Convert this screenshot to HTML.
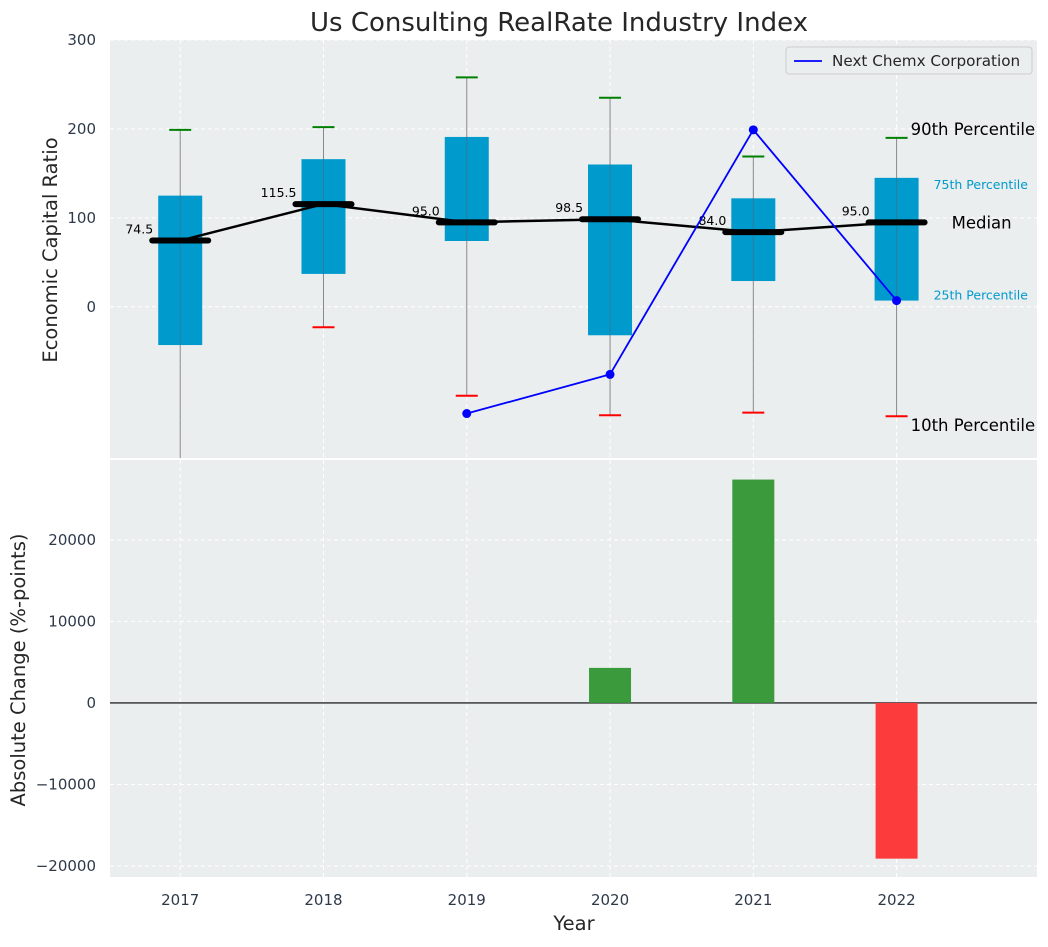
<!DOCTYPE html>
<html><head><meta charset="utf-8"><style>
body{margin:0;background:#fff;font-family:"Liberation Sans","DejaVu Sans",sans-serif}
svg text{font-family:"DejaVu Sans","Liberation Sans",sans-serif}
</style></head><body>
<svg id="chart" width="1048" height="942" xmlns="http://www.w3.org/2000/svg">
<text x="559" y="31" font-size="26" text-anchor="middle" fill="#262626">Us Consulting RealRate Industry Index</text>
<g id="topPanel"></g>
<g id="botPanel"></g>
</svg>
<script>
const years=[2017,2018,2019,2020,2021,2022];
const q1=[-43,37,74,-32,29,7];
const q3=[125,166,191,160,122,145];
const medians=[74.5,115.5,95.0,98.5,84.0,95.0];
const p90=[199,202,258,235,169,190];
const p10=[-200,-23,-100,-122,-119,-123];
const companyYears=[2019,2020,2021,2022];
const companyValues=[-120,-76,199,7];
const changeValues=[0,0,0,4300,27400,-19100];
const topTicks=[0,100,200,300];
const botTicks=[-20000,-10000,0,10000,20000];

const NS="http://www.w3.org/2000/svg";
function el(parent,tag,attrs,text){const e=document.createElementNS(NS,tag);for(const k in attrs)e.setAttribute(k,attrs[k]);if(text!==undefined)e.textContent=text;parent.appendChild(e);return e;}
const X0=110,X1=1037;
const xs=y=>X0+(y-2016.51)/(2022.98-2016.51)*(X1-X0);
const T0=40,T1=458,yt=v=>T0+(300-v)/(300-(-170))*(T1-T0);
const B0=460,B1=877,yb=v=>B0+(29800-v)/(29800-(-21350))*(B1-B0);
const topG=document.getElementById('topPanel'),botG=document.getElementById('botPanel');

let r=el(topG,'rect',{x:X0,y:T0,width:X1-X0,height:T1-T0,fill:'#eaeeef'});

r=el(botG,'rect',{x:X0,y:B0,width:X1-X0,height:B1-B0,fill:'#eaeeef'});


topTicks.forEach(v=>{el(topG,'line',{x1:X0,x2:X1,y1:yt(v),y2:yt(v),stroke:'#fff','stroke-dasharray':'4,3'});
 const t=el(topG,'text',{x:96,y:yt(v)+5,'font-size':15,'text-anchor':'end',fill:'#2e3a4a'},v);
 });
botTicks.forEach(v=>{el(botG,'line',{x1:X0,x2:X1,y1:yb(v),y2:yb(v),stroke:'#fff','stroke-dasharray':'4,3'});
 const t=el(botG,'text',{x:96,y:yb(v)+5,'font-size':15,'text-anchor':'end',fill:'#2e3a4a'},v<0?'\u2212'+(-v):v);
 });
years.forEach(y=>{el(topG,'line',{x1:xs(y),x2:xs(y),y1:T0,y2:T1,stroke:'#fff','stroke-dasharray':'4,3'});
 el(botG,'line',{x1:xs(y),x2:xs(y),y1:B0,y2:B1,stroke:'#fff','stroke-dasharray':'4,3'});
 const t=el(botG,'text',{x:xs(y),y:905,'font-size':15,'text-anchor':'middle',fill:'#2e3a4a'},y);
 });

const clipT=el(topG,'clipPath',{id:'ct'});el(clipT,'rect',{x:X0,y:T0,width:X1-X0,height:T1-T0});
const g=el(topG,'g',{'clip-path':'url(#ct)'});
years.forEach((y,i)=>{const x=xs(y);
 el(g,'line',{x1:x,x2:x,y1:yt(p90[i]),y2:yt(p10[i]),stroke:'#888','stroke-width':1});
 const b=el(g,'rect',{x:x-22,y:yt(q3[i]),width:44,height:yt(q1[i])-yt(q3[i]),fill:'#009acd'});
 
 el(g,'line',{x1:x,x2:x,y1:yt(q3[i]),y2:yt(q1[i]),stroke:'#4a6a80','stroke-width':1,opacity:0.6});
 el(g,'line',{x1:x-11,x2:x+11,y1:yt(p90[i]),y2:yt(p90[i]),stroke:'green','stroke-width':2});
 el(g,'line',{x1:x-11,x2:x+11,y1:yt(p10[i]),y2:yt(p10[i]),stroke:'red','stroke-width':2});
});
let pts=years.map((y,i)=>xs(y)+','+yt(medians[i])).join(' ');
let ml=el(g,'polyline',{points:pts,fill:'none',stroke:'#000','stroke-width':2.5});

years.forEach((y,i)=>{const x=xs(y);
 el(g,'line',{x1:x-28,x2:x+28,y1:yt(medians[i]),y2:yt(medians[i]),stroke:'#000','stroke-width':6,'stroke-linecap':'round'});
 const t=el(g,'text',{x:x-27,y:yt(medians[i])-7,'font-size':12.5,'text-anchor':'end',fill:'#000'},medians[i].toFixed(1));
 });
pts=companyYears.map((y,i)=>xs(y)+','+yt(companyValues[i])).join(' ');
let cl=el(g,'polyline',{points:pts,fill:'none',stroke:'blue','stroke-width':1.8});

companyYears.forEach((y,i)=>{const c=el(g,'circle',{cx:xs(y),cy:yt(companyValues[i]),r:4.5,fill:'blue'});
 });

const lx=xs(2022);const li=5;
[[lx+14,yt(p90[li])-3,'90th Percentile',16.5,'#000'],[lx+37,yt(q3[li])+11,'75th Percentile',12.5,'#009acd'],
 [lx+55,yt(medians[li])+6,'Median',16.5,'#000'],[lx+37,yt(q1[li])-1,'25th Percentile',12.5,'#009acd'],
 [lx+14,yt(p10[li])+15,'10th Percentile',16.5,'#000']].forEach(a=>{
 const t=el(topG,'text',{x:a[0],y:a[1],'font-size':a[3],fill:a[4]},a[2]);
 });

const lg=el(topG,'g',{});
el(lg,'rect',{x:786,y:47,width:246,height:27,rx:3,fill:'#eaeeef',stroke:'#ccc'});
el(lg,'line',{x1:794,x2:822,y1:61,y2:61,stroke:'blue','stroke-width':1.8});
el(lg,'text',{x:832,y:66,'font-size':15.2,fill:'#262626'},'Next Chemx Corporation');

el(botG,'line',{x1:X0,x2:X1,y1:yb(0),y2:yb(0),stroke:'#000','stroke-width':1.2});
years.forEach((y,i)=>{const v=changeValues[i];if(!v)return;
 const b=el(botG,'rect',{x:xs(y)-21,y:Math.min(yb(v),yb(0)),width:42,height:Math.abs(yb(v)-yb(0)),fill:v>0?'#3a9a3c':'#fc3c3c'});
 });

let t=el(topG,'text',{x:57,y:250,'font-size':19.5,'text-anchor':'middle',fill:'#262626',transform:'rotate(-90 57 250)'},'Economic Capital Ratio');

t=el(botG,'text',{x:25,y:670,'font-size':19.5,'text-anchor':'middle',fill:'#262626',transform:'rotate(-90 25 670)'},'Absolute Change (%-points)');

t=el(botG,'text',{x:574,y:930,'font-size':19.5,'text-anchor':'middle',fill:'#262626'},'Year');

</script>
</body></html>
